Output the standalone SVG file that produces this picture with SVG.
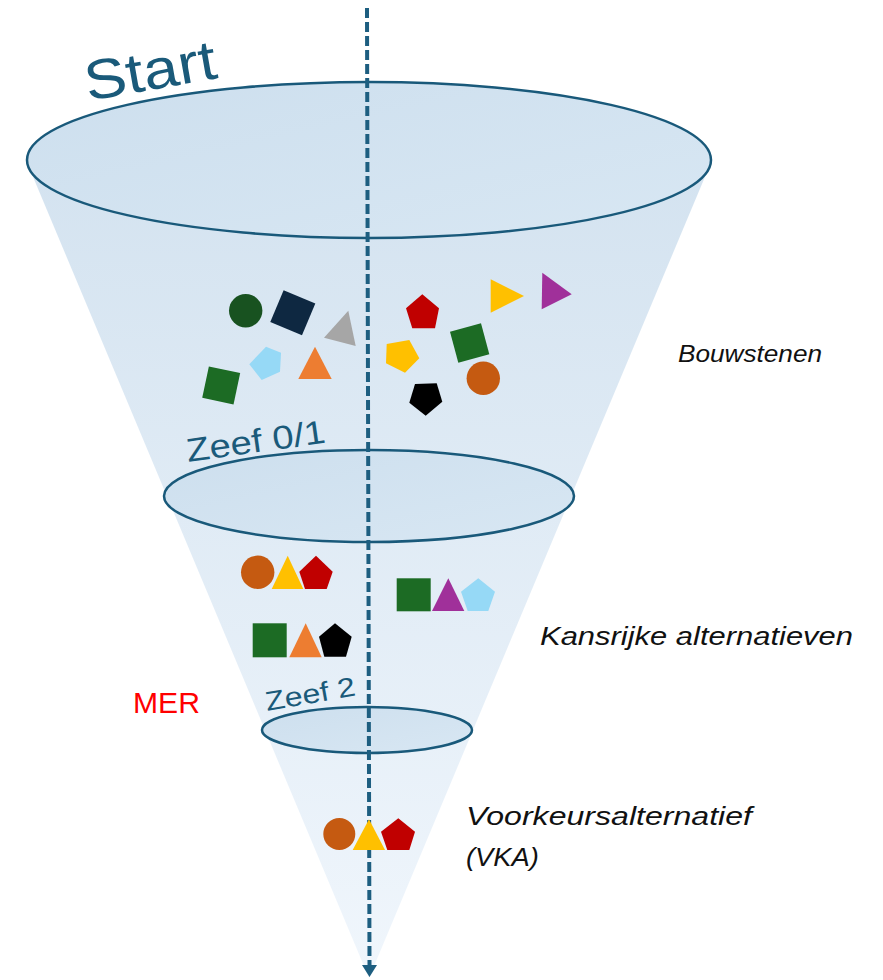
<svg xmlns="http://www.w3.org/2000/svg" width="883" height="980" viewBox="0 0 883 980">
<defs>
<linearGradient id="coneG" x1="0" y1="0" x2="0" y2="1">
<stop offset="0" stop-color="#d4e3f0"/>
<stop offset="1" stop-color="#f0f6fc"/>
</linearGradient>
<linearGradient id="ellG" x1="0" y1="0" x2="1" y2="1">
<stop offset="0" stop-color="#cddfee"/>
<stop offset="1" stop-color="#d8e7f3"/>
</linearGradient>
<marker id="ah" viewBox="0 0 12 15" refX="0" refY="7.5" markerWidth="12" markerHeight="15" markerUnits="userSpaceOnUse" orient="auto">
<path d="M0,0 L12,7.5 L0,15 Z" fill="#1d5e80"/>
</marker>
<style>
.ell{fill:url(#ellG);stroke:#19597a;stroke-width:2.5}
.lbl{font-family:"Liberation Sans",Arial,sans-serif;fill:#1a5a7a}
.it{font-family:"Liberation Sans",Arial,sans-serif;font-style:italic;fill:#111}
</style>
</defs>

<g id="funnel">
<path d="M31,172 L369,978 L707,172 Z" fill="url(#coneG)"/>
</g>

<g id="start-ellipse">
<ellipse class="ell" cx="369" cy="160" rx="342" ry="78"/>
<text class="lbl" transform="translate(88,101) rotate(-10)" font-size="56" textLength="133" lengthAdjust="spacingAndGlyphs">Start</text>
</g>

<g id="zeef01">
<ellipse class="ell" cx="369" cy="496" rx="205" ry="46"/>
<text class="lbl" transform="translate(188,462) rotate(-8)" font-size="33" textLength="140" lengthAdjust="spacingAndGlyphs">Zeef 0/1</text>
</g>

<g id="zeef2">
<ellipse class="ell" cx="367" cy="730" rx="105" ry="23"/>
<text class="lbl" transform="translate(267,711) rotate(-10)" font-size="27" textLength="91" lengthAdjust="spacingAndGlyphs">Zeef 2</text>
</g>

<g id="connectors">
<line x1="367" y1="8" x2="369.5" y2="965" stroke="#1d5e80" stroke-width="4" stroke-dasharray="10 4" marker-end="url(#ah)"/>
</g>

<g id="bouwstenen-shapes">
<circle cx="245.7" cy="310.7" r="16.7" fill="#185220"/>
<rect x="-17.2" y="-17.2" width="34.4" height="34.4" fill="#0e2841" transform="translate(292.8,312.8) rotate(22.8)"/>
<polygon points="348.3,310.7 355.7,346 324,337.7" fill="#a6a6a6"/>
<polygon points="266,346.7 281,352.7 280,371.7 261.7,380 249.3,364.3" fill="#96d9f6"/>
<polygon points="315,346.7 331.7,379 298.3,379" fill="#ed7d31"/>
<rect x="-16" y="-16" width="32" height="32" fill="#1c6b24" transform="translate(221.2,385.4) rotate(12)"/>
<polygon points="422.3,294.3 439,308.3 435,328.3 412.3,328.3 406,308.3" fill="#c00000"/>
<polygon points="490.7,279.3 524,296 490.7,312.7" fill="#ffc000"/>
<polygon points="542.3,272.7 571.7,294.3 541.7,309.3" fill="#a0309a"/>
<polygon points="386.7,344 409.3,340 419.3,358.3 405,372.7 386,363.3" fill="#ffc000"/>
<polygon points="450,331.7 481,323.3 489.3,354.3 458.3,362.7" fill="#1c6b24"/>
<circle cx="483.3" cy="378.3" r="16.7" fill="#c55a11"/>
<polygon points="415,384 436.7,383.3 442.3,401.7 425.7,415.7 409.3,402.7" fill="#000"/>
</g>

<g id="kansrijke-shapes">
<circle cx="257.7" cy="572.3" r="16.7" fill="#c55a11"/>
<polygon points="287.7,555.7 303.3,589 271.7,589" fill="#ffc000"/>
<polygon points="316,555.7 332.7,571.7 326.7,589 305,589 299.3,571.7" fill="#c00000"/>
<rect x="396.7" y="578.3" width="34" height="33" fill="#1c6b24"/>
<polygon points="448.3,578.3 464.3,611 432,611" fill="#a0309a"/>
<polygon points="478.3,578.3 495,591.7 488.3,611 467.7,611 461,591.7" fill="#96d9f6"/>
<rect x="252.7" y="623.3" width="34" height="34" fill="#1c6b24"/>
<polygon points="305.7,623.3 321.7,657.3 289.3,657.3" fill="#ed7d31"/>
<polygon points="335,623.3 351.7,636.7 346,656.7 324.3,656.7 319,636.7" fill="#000"/>
</g>

<g id="vka-shapes">
<circle cx="339.3" cy="834" r="16" fill="#c55a11"/>
<polygon points="369,819.3 385,850 352.7,850" fill="#ffc000"/>
<polygon points="398.3,818.3 415,831.7 409.3,850 387.3,850 381,831.7" fill="#c00000"/>
</g>

<g id="labels">
<text class="it" x="678" y="362" font-size="24" textLength="144" lengthAdjust="spacingAndGlyphs">Bouwstenen</text>
<text class="it" x="540" y="645" font-size="25" textLength="313" lengthAdjust="spacingAndGlyphs">Kansrijke alternatieven</text>
<text class="it" x="466" y="825" font-size="25" textLength="286" lengthAdjust="spacingAndGlyphs">Voorkeursalternatief</text>
<text class="it" x="466" y="866" font-size="25" textLength="73" lengthAdjust="spacingAndGlyphs">(VKA)</text>
<text x="133" y="713" font-family="Liberation Sans, Arial, sans-serif" font-size="29" fill="#ff0000" textLength="67" lengthAdjust="spacingAndGlyphs">MER</text>
</g>
</svg>
